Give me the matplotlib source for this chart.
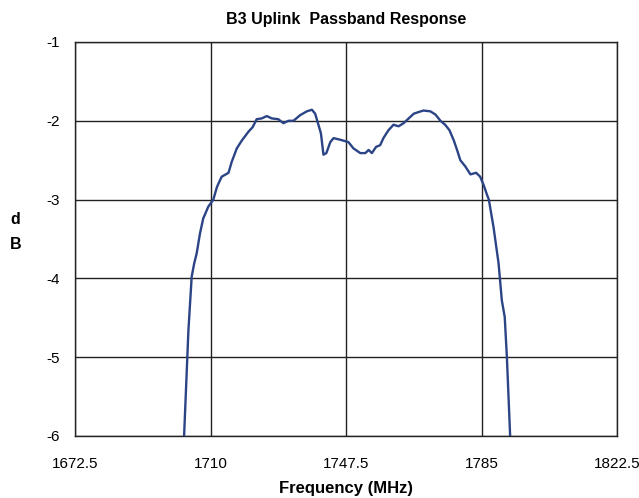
import matplotlib.pyplot as plt

plt.rcParams['font.family'] = ['Liberation Sans Narrow', 'Liberation Sans', 'DejaVu Sans']

# Passband response
freq = [1702.0, 1702.6, 1703.8, 1704.7, 1705.4, 1706.1, 1707.0, 1707.9, 1709.3,
        1710.7, 1711.7, 1713.0, 1714.9, 1715.8, 1717.2, 1718.6, 1720.4, 1721.6,
        1722.7, 1724.1, 1725.5, 1726.9, 1728.7, 1730.1, 1731.5, 1732.9, 1734.7,
        1736.6, 1738.0, 1738.9, 1739.8, 1740.5, 1741.2, 1742.0, 1743.1, 1744.0,
        1745.8, 1748.1, 1749.5, 1751.4, 1752.8, 1753.7, 1754.6, 1755.8, 1756.9,
        1757.8, 1759.2, 1760.6, 1762.0, 1763.4, 1764.8, 1766.2, 1767.5, 1768.9,
        1770.8, 1772.2, 1773.6, 1774.9, 1776.1, 1777.3, 1778.2, 1779.1, 1780.5,
        1781.9, 1783.5, 1784.6, 1785.6, 1786.5, 1787.0, 1788.3, 1789.7, 1790.6,
        1791.4, 1792.0, 1792.9, 1793.4]
db = [-6.8, -6.0, -4.66, -3.98, -3.81, -3.68, -3.43, -3.24, -3.09,
      -3.0, -2.84, -2.71, -2.66, -2.52, -2.35, -2.25, -2.14, -2.08,
      -1.98, -1.97, -1.94, -1.97, -1.98, -2.03, -2.0, -2.0, -1.93,
      -1.88, -1.86, -1.91, -2.05, -2.16, -2.43, -2.41, -2.27, -2.22,
      -2.24, -2.27, -2.35, -2.41, -2.41, -2.37, -2.41, -2.33, -2.31,
      -2.22, -2.12, -2.05, -2.07, -2.03, -1.97, -1.91, -1.89, -1.87,
      -1.88, -1.92, -2.0, -2.05, -2.12, -2.25, -2.37, -2.5, -2.58,
      -2.68, -2.66, -2.71, -2.82, -2.94, -3.0, -3.35, -3.81, -4.28,
      -4.49, -5.0, -6.0, -6.6]

xticks = [1672.5, 1710, 1747.5, 1785, 1822.5]
xtick_labels = ['1672.5', '1710', '1747.5', '1785', '1822.5']
yticks = [-6, -5, -4, -3, -2, -1]

fig = plt.figure(figsize=(6.39, 4.98), dpi=100)
ax = fig.add_axes([0.118, 0.1245, 0.8476, 0.7912])

ax.plot(freq, db, color='#2b4486', linewidth=1.7, zorder=3)

ax.set_xlim(1672.5, 1822.5)
ax.set_ylim(-6, -1)
ax.set_xticks(xticks)
ax.set_xticklabels(xtick_labels)
ax.set_yticks(yticks)
ax.set_yticklabels([str(v) for v in yticks])
ax.tick_params(length=0, labelsize=11)
ax.tick_params(axis='x', pad=15)
ax.tick_params(axis='y', pad=11)
ax.grid(True, color='#222222', linewidth=1.0)
for s in ax.spines.values():
    s.set_color('#222222')
    s.set_linewidth(1.0)

ax.set_title('B3 Uplink  Passband Response', fontsize=11.5, fontweight='bold', pad=13)
ax.set_xlabel('Frequency (MHz)', fontsize=12, fontweight='bold', labelpad=7)
fig.text(0.024, 0.534, 'd\nB', fontsize=11.5, fontweight='bold', ha='center', va='center',
         linespacing=1.9)

fig.savefig('out.png', dpi=100)
